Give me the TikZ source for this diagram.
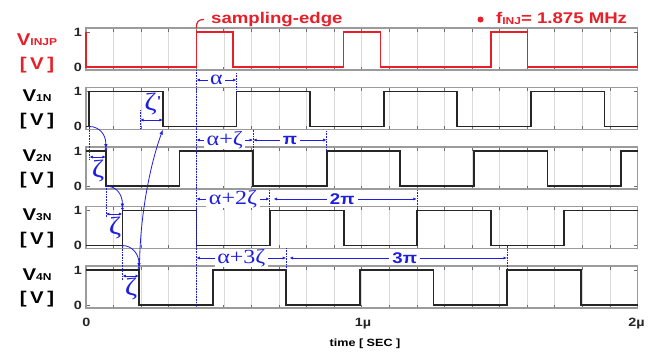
\documentclass[tikz,border=0pt]{standalone}
\usepackage{fontspec}
\setmainfont{Liberation Sans}
\newfontfamily\serifg{Liberation Serif}
\usetikzlibrary{arrows.meta}
\definecolor{sigred}{RGB}{232,30,40}
\definecolor{annblue}{RGB}{30,30,225}
\definecolor{framegray}{RGB}{155,155,155}
\definecolor{gridgray}{RGB}{218,218,218}
\definecolor{tickgray}{RGB}{110,110,110}
\newcommand\hs[1]{\scalebox{1.2}[1]{#1}}
\begin{document}
\begin{tikzpicture}[x=1pt,y=-1pt,
  frame/.style={draw=framegray, line width=1.3pt},
  gridline/.style={draw=gridgray, line width=0.6pt},
  tickmark/.style={draw=tickgray, line width=0.8pt},
  redsig/.style={draw=sigred, line width=1.5pt},
  blksig/.style={draw=black!85, line width=1.8pt},
  dimline/.style={draw=annblue, line width=0.7pt, {Latex[length=3.5pt,width=3pt]}-{Latex[length=3.5pt,width=3pt]}},
  guide/.style={draw=annblue, line width=0.6pt, densely dotted},
  causal/.style={draw=annblue, line width=0.8pt, -{Latex[length=5pt,width=3.5pt]}},
  greek/.style={text=annblue, font=\serifg\fontsize{20}{20}\selectfont, inner xsep=2.5pt, inner ysep=0pt},
  zlabel/.style={text=annblue, font=\serifg\fontsize{25}{25}\selectfont, inner sep=0pt},
  pilabel/.style={text=annblue, font=\bfseries\fontsize{15.5}{15.5}\selectfont, inner xsep=3pt, inner ysep=0pt},
  vlabel/.style={font=\bfseries\fontsize{17}{17}\selectfont, anchor=base},
  ticklabel/.style={font=\bfseries\fontsize{12}{12}\selectfont, text=black!85},
  titlelabel/.style={text=sigred, font=\bfseries\fontsize{15.5}{15.5}\selectfont, anchor=base west, inner sep=0pt},
]
\useasboundingbox (0,0) rectangle (656,351);
\fill[white] (0,0) rectangle (656,351);

% panels
\foreach \t in {28,87.5,147,206.5,266}{
  \foreach \k in {1,...,19}{
    \draw[gridline] ({86+27.575*\k},\t) -- ({86+27.575*\k},{\t+42});
    \draw[tickmark] ({86+27.575*\k},\t) -- ({86+27.575*\k},{\t+3.5});
    \draw[tickmark] ({86+27.575*\k},{\t+42}) -- ({86+27.575*\k},{\t+38.5});
  }
  \draw[tickmark] (86,{\t+4}) -- (90,{\t+4}) (86,{\t+39}) -- (90,{\t+39});
  \draw[tickmark] (637.5,{\t+4}) -- (633.5,{\t+4}) (637.5,{\t+39}) -- (633.5,{\t+39});
  \draw[frame] (86,\t) rectangle (637.5,{\t+42});
  \node[ticklabel] at (78,{\t+4}) {\hs{1}};
  \node[ticklabel] at (78,{\t+39}) {\hs{0}};
}

% signals
\draw[redsig] (86,32) -- (86,67) -- (196.4,67) -- (196.4,32) -- (233.2,32) -- (233.2,67)
  -- (343.6,67) -- (343.6,32) -- (380.4,32) -- (380.4,67) -- (490.8,67) -- (490.8,32)
  -- (527.6,32) -- (527.6,67) -- (637.5,67) -- (637.5,32);
\draw[blksig] (86,126.5) -- (89.3,126.5) -- (89.3,91.5) -- (162.9,91.5) -- (162.9,126.5)
  -- (236.5,126.5) -- (236.5,91.5) -- (310.1,91.5) -- (310.1,126.5) -- (383.7,126.5)
  -- (383.7,91.5) -- (457.3,91.5) -- (457.3,126.5) -- (530.9,126.5) -- (530.9,91.5)
  -- (604.5,91.5) -- (604.5,126.5) -- (637.5,126.5);
\draw[blksig] (86,151) -- (105.9,151) -- (105.9,186) -- (179.5,186) -- (179.5,151)
  -- (253.1,151) -- (253.1,186) -- (326.7,186) -- (326.7,151) -- (400.3,151)
  -- (400.3,186) -- (473.9,186) -- (473.9,151) -- (547.5,151) -- (547.5,186)
  -- (621.1,186) -- (621.1,151) -- (637.5,151);
\draw[blksig] (86,245.5) -- (122.4,245.5) -- (122.4,210.5) -- (196.4,210.5) -- (196.4,245.5)
  -- (269.6,245.5) -- (269.6,210.5) -- (343.6,210.5) -- (343.6,245.5) -- (416.8,245.5)
  -- (416.8,210.5) -- (490.8,210.5) -- (490.8,245.5) -- (564,245.5) -- (564,210.5)
  -- (637.5,210.5);
\draw[blksig] (86,270) -- (139,270) -- (139,305) -- (212.6,305) -- (212.6,270)
  -- (286.2,270) -- (286.2,305) -- (359.8,305) -- (359.8,270) -- (433.4,270)
  -- (433.4,305) -- (507,305) -- (507,270) -- (580.6,270) -- (580.6,305) -- (637.5,305);

% left labels
\node[vlabel, text=sigred] (vinj) at (37,45) {\hs{V{\fontsize{10}{10}\selectfont INJP}}};
\node[vlabel, text=sigred] (uinj) at (37,69) {\hs{[\kern3pt V\kern3pt]}};
\node[vlabel] (v1) at (37,101.5) {\hs{V{\fontsize{10}{10}\selectfont 1N}}};
\node[vlabel] (u1) at (37,125) {\hs{[\kern3pt V\kern3pt]}};
\node[vlabel] (v2) at (37,161) {\hs{V{\fontsize{10}{10}\selectfont 2N}}};
\node[vlabel] (u2) at (37,184.5) {\hs{[\kern3pt V\kern3pt]}};
\node[vlabel] (v3) at (37,220.5) {\hs{V{\fontsize{10}{10}\selectfont 3N}}};
\node[vlabel] (u3) at (37,244) {\hs{[\kern3pt V\kern3pt]}};
\node[vlabel] (v4) at (37,280) {\hs{V{\fontsize{10}{10}\selectfont 4N}}};
\node[vlabel] (u4) at (37,303.5) {\hs{[\kern3pt V\kern3pt]}};

% axis labels
\node[ticklabel, anchor=base] (x0) at (86.5,326) {\hs{0}};
\node[ticklabel, anchor=base] (x1) at (363,326) {\hs{1µ}};
\node[ticklabel, anchor=base] (x2) at (636.5,326) {\hs{2µ}};
\node[font=\bfseries\fontsize{10.5}{10.5}\selectfont, anchor=base] (xt) at (365,346) {\hs{time [ SEC ]}};

% titles
\node[titlelabel] (se) at (211,23) {\hs{sampling-edge}};
\draw[draw=sigred, line width=1.2pt] (196.4,28) .. controls (196.4,21.5) and (198.5,19.5) .. (204,19.5);
\fill[sigred] (480.5,19.5) circle (3);
\node[titlelabel] (finj) at (496,23) {\hs{f{\fontsize{10}{10}\selectfont\raisebox{-1pt}{INJ}}= 1.875 MHz}};

% guides
\draw[guide] (196.4,70) -- (196.4,305);
\draw[guide] (236.5,73) -- (236.5,91.5);
\draw[guide] (253.1,129.5) -- (253.1,151);
\draw[guide] (326.7,131) -- (326.7,151);
\draw[guide] (269.6,190) -- (269.6,210.5);
\draw[guide] (416.8,190) -- (416.8,210.5);
\draw[guide] (286.2,248) -- (286.2,270);
\draw[guide] (507,245.5) -- (507,270);
\draw[guide] (89.3,126.5) -- (89.3,160);
\draw[guide] (105.9,186) -- (105.9,218);
\draw[guide] (122.4,245.5) -- (122.4,280);
\draw[guide] (140,110) -- (140,128);

% timing dimensions
\draw[dimline] (196.4,80) -- node[greek, fill=white] (la) {\hs{α}} (236.5,80);
\draw[dimline] (196.4,140) -- node[greek, fill=white] (laz) {\hs{α+ζ}} (253.1,140);
\draw[dimline] (253.1,140) -- node[pilabel, fill=white] (lpi) {\hs{π}} (326.7,140);
\draw[dimline] (196.4,199) -- node[greek, fill=white] (la2z) {\hs{α+2ζ}} (269.6,199);
\draw[dimline] (273.5,199) -- node[pilabel, fill=white, pos=0.48] (l2pi) {\hs{2π}} (416.8,199);
\draw[dimline] (196.4,258) -- node[greek, fill=white] (la3z) {\hs{α+3ζ}} (286.2,258);
\draw[dimline] (289.5,258) -- node[pilabel, fill=white, pos=0.53] (l3pi) {\hs{3π}} (507,258);

% zeta dimensions
\draw[dimline] (89.3,157) -- (105.9,157);
\node[zlabel] (z1) at (98,171) {\hs{ζ}};
\draw[dimline] (105.9,214) -- (122.4,214);
\node[zlabel] (z2) at (115,228) {\hs{ζ}};
\draw[dimline] (122.4,276) -- (139,276);
\node[zlabel] (z3) at (131,289) {\hs{ζ}};
\draw[dimline] (140,120) -- (162.9,120);
\node[zlabel] (zp) at (153,104) {\hs{ζ{\bfseries\fontsize{15}{15}\selectfont\raisebox{4pt}{\textquotesingle}}}};

% causal arrows
\draw[causal] (89.3,126.5) .. controls (99,126.5) and (105.9,134) .. (105.9,149);
\fill[annblue] (105.9,149) circle (1.4);
\draw[causal] (105.9,186) .. controls (116,186) and (122.4,194) .. (122.4,208.5);
\fill[annblue] (122.4,208.5) circle (1.4);
\draw[causal] (122.4,245.5) .. controls (132,245.5) and (139,254) .. (139,268);
\fill[annblue] (139,268) circle (1.4);
\draw[causal] (139.5,266) .. controls (140,215) and (150,165) .. (162.9,129.5);
\end{tikzpicture}
\end{document}
